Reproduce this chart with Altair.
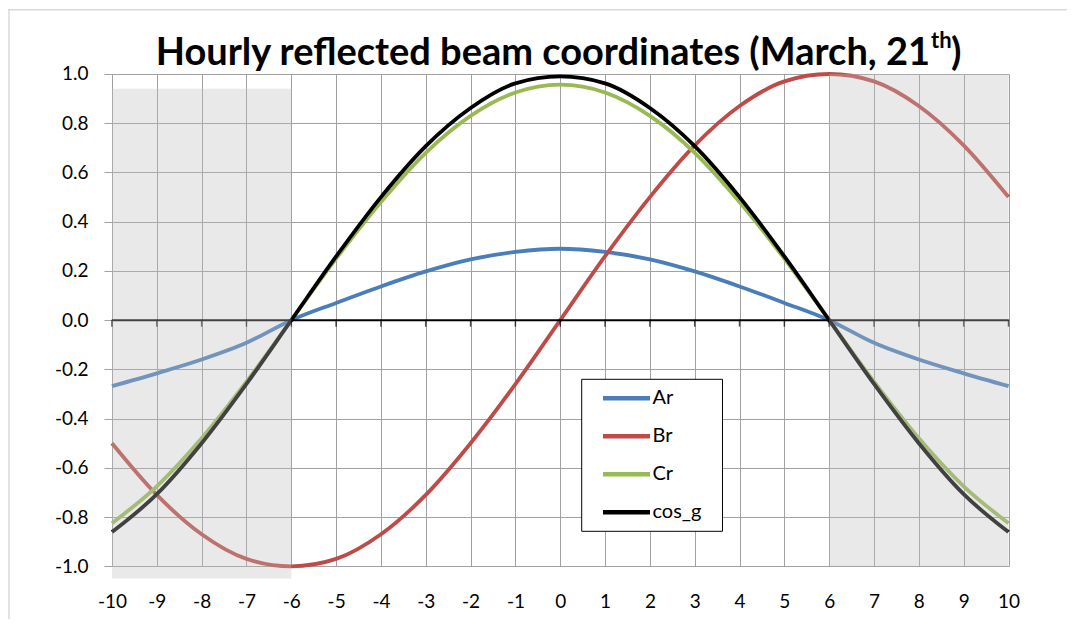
import altair as alt
import pandas as pd

# ---- data ----
hours = list(range(-10, 11))
ar = [-0.268, -0.216, -0.16, -0.092, 0.0, 0.07, 0.137, 0.198, 0.247, 0.277, 0.29,
      0.277, 0.247, 0.198, 0.137, 0.07, 0.0, -0.092, -0.16, -0.216, -0.268]
br = [-0.5, -0.71, -0.87, -0.97, -1.0, -0.97, -0.87, -0.71, -0.5, -0.26, 0.0,
      0.26, 0.5, 0.71, 0.87, 0.97, 1.0, 0.97, 0.87, 0.71, 0.5]
cr = [-0.825, -0.675, -0.48, -0.25, 0.0, 0.25, 0.48, 0.68, 0.83, 0.925, 0.957,
      0.925, 0.83, 0.68, 0.48, 0.25, 0.0, -0.25, -0.48, -0.675, -0.825]
cos_g = [-0.861, -0.707, -0.5, -0.259, 0.0, 0.259, 0.5, 0.707, 0.862, 0.962, 0.99,
         0.962, 0.862, 0.707, 0.5, 0.259, 0.0, -0.259, -0.5, -0.707, -0.861]
series_names = ["Ar", "Br", "Cr", "cos_g"]
series_colors = ["#4A7EBB", "#BE4B48", "#98B954", "#000000"]
y_ticks = [-1.0, -0.8, -0.6, -0.4, -0.2, 0.0, 0.2, 0.4, 0.6, 0.8, 1.0]

shade_x1 = [-10, 6]
shade_x2 = [-6, 10]
shade_y1 = [-1.05, -1.0]
shade_y2 = [0.94, 1.0]

title_main = "Hourly reflected beam coordinates (March, 21"
title_sup = "th"
title_end = ")"

FONT = "Lato"
W, H = 896.5, 492.3

rows = []
for name, vals in zip(series_names, [ar, br, cr, cos_g]):
    for h, v in zip(hours, vals):
        rows.append({"h": h, "v": v, "series": name})
df = pd.DataFrame(rows)

xscale = alt.Scale(domain=[-10, 10], nice=False, zero=False)
yscale = alt.Scale(domain=[-1, 1], nice=False, zero=False)

lines = alt.Chart(df).mark_line(strokeWidth=3.8, interpolate="monotone").encode(
    x=alt.X("h:Q", scale=xscale, title=None,
            axis=alt.Axis(values=hours, grid=True, domain=False, ticks=False,
                          labelFlush=False, labelOverlap=False,
                          labelExpr="datum.value + ''", labelPadding=26)),
    y=alt.Y("v:Q", scale=yscale, title=None,
            axis=alt.Axis(values=y_ticks, grid=True, domain=True, ticks=True,
                          tickSize=8, labelPadding=16, labelFlush=False,
                          labelOverlap=False,
                          labelExpr="(datum.value < 0 ? '-' : '') + format(abs(datum.value), '.1f')")),
    color=alt.Color("series:N",
                    scale=alt.Scale(domain=series_names, range=series_colors),
                    legend=alt.Legend(orient="none", legendX=469.7, legendY=305.3,
                                      title=None, symbolType="stroke",
                                      symbolStrokeWidth=4.5, symbolSize=2209,
                                      labelFontSize=20, labelFont=FONT,
                                      labelColor="black", padding=0,
                                      clipHeight=38, rowPadding=0,
                                      symbolOffset=18.8, labelOffset=0)),
)

legend_box = alt.Chart(pd.DataFrame({"a": [0]})).mark_rect(
    fill="white", stroke="black", strokeWidth=1).encode(
    x=alt.value(469.7), x2=alt.value(610.5), y=alt.value(305.3), y2=alt.value(457.3))

zero_line = alt.Chart(pd.DataFrame({"y": [0]})).mark_rule(
    color="black", strokeWidth=2).encode(y=alt.Y("y:Q", scale=yscale, title=None))

ticks = alt.Chart(pd.DataFrame({"h": hours, "y": [0] * len(hours)})).mark_tick(
    orient="vertical", size=7, thickness=1.5, color="black", yOffset=3
).encode(x=alt.X("h:Q", scale=xscale, title=None),
         y=alt.Y("y:Q", scale=yscale, title=None))

shade = alt.Chart(pd.DataFrame({"x1": shade_x1, "x2": shade_x2,
                                "y1": shade_y1, "y2": shade_y2})).mark_rect(
    color="#bebebe", opacity=0.34
).encode(x=alt.X("x1:Q", scale=xscale, title=None), x2="x2",
         y=alt.Y("y1:Q", scale=yscale, title=None), y2="y2")

border_top = alt.Chart(pd.DataFrame({"a": [0]})).mark_rule(
    color="#c8c8c8", strokeWidth=1).encode(
    x=alt.value(-103.5), x2=alt.value(955), y=alt.value(-64.2))
border_left = alt.Chart(pd.DataFrame({"a": [0]})).mark_rule(
    color="#c8c8c8", strokeWidth=1).encode(
    x=alt.value(-103.0), y=alt.value(-64.7), y2=alt.value(545))

t1 = alt.Chart(pd.DataFrame({"t": [title_main]})).mark_text(
    font=FONT, fontSize=38, fontWeight="bold", align="right",
    baseline="alphabetic", color="black").encode(
    text="t:N", x=alt.value(818), y=alt.value(-9.4))
t2 = alt.Chart(pd.DataFrame({"t": [title_sup]})).mark_text(
    font=FONT, fontSize=22, fontWeight="bold", align="left",
    baseline="alphabetic", color="black").encode(
    text="t:N", x=alt.value(819), y=alt.value(-26))
t3 = alt.Chart(pd.DataFrame({"t": [title_end]})).mark_text(
    font=FONT, fontSize=38, fontWeight="bold", align="left",
    baseline="alphabetic", color="black").encode(
    text="t:N", x=alt.value(839), y=alt.value(-9.4))

chart = alt.layer(border_top, border_left, lines, zero_line, ticks, shade,
                  legend_box, t1, t2, t3).properties(
    width=W, height=H, padding=0, background="white"
).configure_view(strokeWidth=0).configure_axis(
    gridColor="#a0a0a0", gridWidth=1, domainColor="#a0a0a0", tickColor="#a0a0a0",
    labelFont=FONT, labelFontSize=19, labelColor="black", domainWidth=1
)

chart.save("out.html", embed_options={"renderer": "svg", "actions": False})
